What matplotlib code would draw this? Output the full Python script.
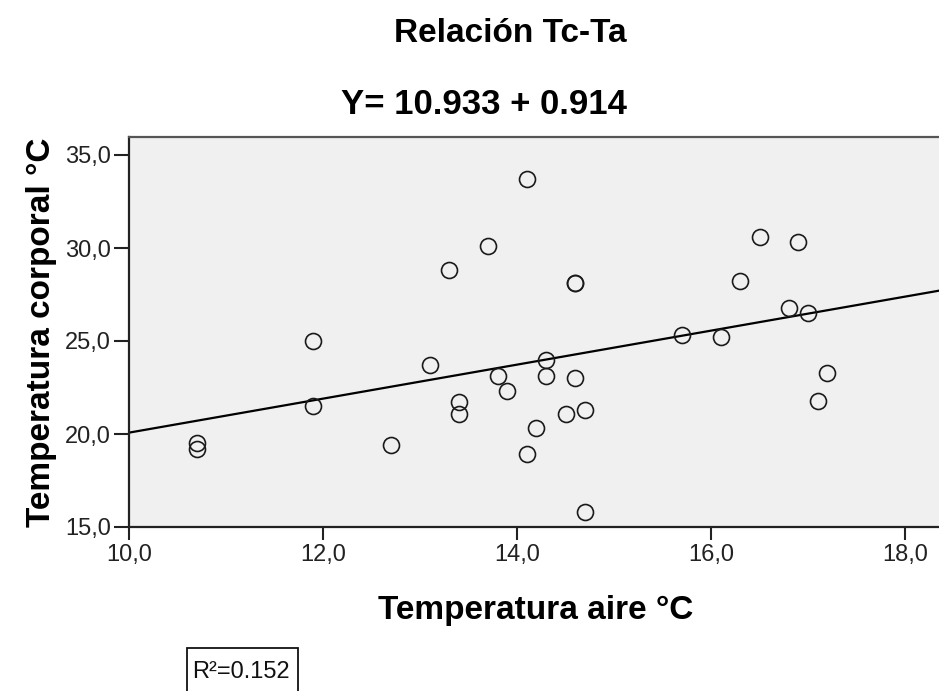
import matplotlib
matplotlib.use("Agg")
import matplotlib.pyplot as plt
from matplotlib.ticker import FuncFormatter, FixedLocator
from matplotlib.patches import Rectangle
import numpy as np

plt.rcParams['font.family'] = ['Liberation Sans', 'DejaVu Sans']

# Data
temp_aire = [10.7, 10.7, 11.9, 11.9, 12.7, 13.1, 13.3, 13.4, 13.4, 13.7, 13.8, 13.9,
             14.1, 14.1, 14.2, 14.3, 14.3, 14.5, 14.6, 14.6, 14.6, 14.7, 14.7,
             15.7, 16.1, 16.3, 16.5, 16.8, 16.9, 17.0, 17.1, 17.2]
temp_corporal = [19.5, 19.2, 25.0, 21.5, 19.4, 23.7, 28.8, 21.7, 21.1, 30.1, 23.1, 22.3,
                 33.7, 18.9, 20.3, 24.0, 23.1, 21.1, 28.1, 28.1, 23.0, 21.3, 15.8,
                 25.3, 25.2, 28.2, 30.6, 26.8, 30.3, 26.5, 21.8, 23.3]
intercept = 10.933
slope = 0.914
r2 = 0.152
x_ticks = [10.0, 12.0, 14.0, 16.0, 18.0]
y_ticks = [15.0, 20.0, 25.0, 30.0, 35.0]

W, H = 939, 691
fig = plt.figure(figsize=(W / 100, H / 100), dpi=100)
ax = fig.add_axes([129 / W, (H - 527) / H, (945 - 129) / W, (527 - 137) / H])
ax.set_facecolor('#F0F0F0')

xlim = (10.0, 10.0 + 816 / 97.0)
ylim = (15.0, 15.0 + 390 / 18.6)
ax.set_xlim(*xlim)
ax.set_ylim(*ylim)

# regression line
xl = np.array(xlim)
ax.plot(xl, intercept + slope * xl, color='black', lw=1.6, zorder=2)

ax.plot(temp_aire, temp_corporal, linestyle='none', marker='o', markersize=11.5,
        markerfacecolor='none', markeredgecolor='#1a1a1a', markeredgewidth=1.2, zorder=3)

ax.xaxis.set_major_locator(FixedLocator(x_ticks))
ax.yaxis.set_major_locator(FixedLocator(y_ticks))
fmt = FuncFormatter(lambda v, p: f"{v:.1f}".replace('.', ','))
ax.xaxis.set_major_formatter(fmt)
ax.yaxis.set_major_formatter(fmt)
ax.tick_params(axis='both', direction='out', width=1.5, color='#222222',
               labelsize=17, labelcolor='#222222')
ax.tick_params(axis='y', length=11, pad=2)
ax.tick_params(axis='x', length=9.5, pad=3)

for s in ['left', 'bottom']:
    ax.spines[s].set_color('#222222')
    ax.spines[s].set_linewidth(1.6)
ax.spines['top'].set_color('#555555')
ax.spines['top'].set_linewidth(1.6)
ax.spines['right'].set_visible(False)

ax.set_ylabel('Temperatura corporal °C', fontsize=24, fontweight='bold', labelpad=6)
fig.text(536 / W, 1 - 610 / H, 'Temperatura aire °C', fontsize=24, fontweight='bold',
         ha='center', va='center')

fig.text(510 / W, 1 - 33 / H, 'Relación Tc-Ta', fontsize=24, fontweight='bold',
         ha='center', va='center')
fig.text(484 / W, 1 - 104 / H, f'Y= {intercept:.3f} + {slope:.3f}', fontsize=25,
         fontweight='bold', ha='center', va='center')

# R² box (extends past the bottom edge, as in the reference)
fig.patches.append(Rectangle((187 / W, 1 - 710 / H), (298 - 187) / W, (710 - 648) / H,
                             transform=fig.transFigure, facecolor='white',
                             edgecolor='#111111', lw=1.3, zorder=1))
fig.text(192 / W, 1 - 678 / H, f'R²={r2:.3f}', fontsize=17, ha='left', va='baseline',
         color='#111111', zorder=2)

fig.savefig('out.png', dpi=100)
